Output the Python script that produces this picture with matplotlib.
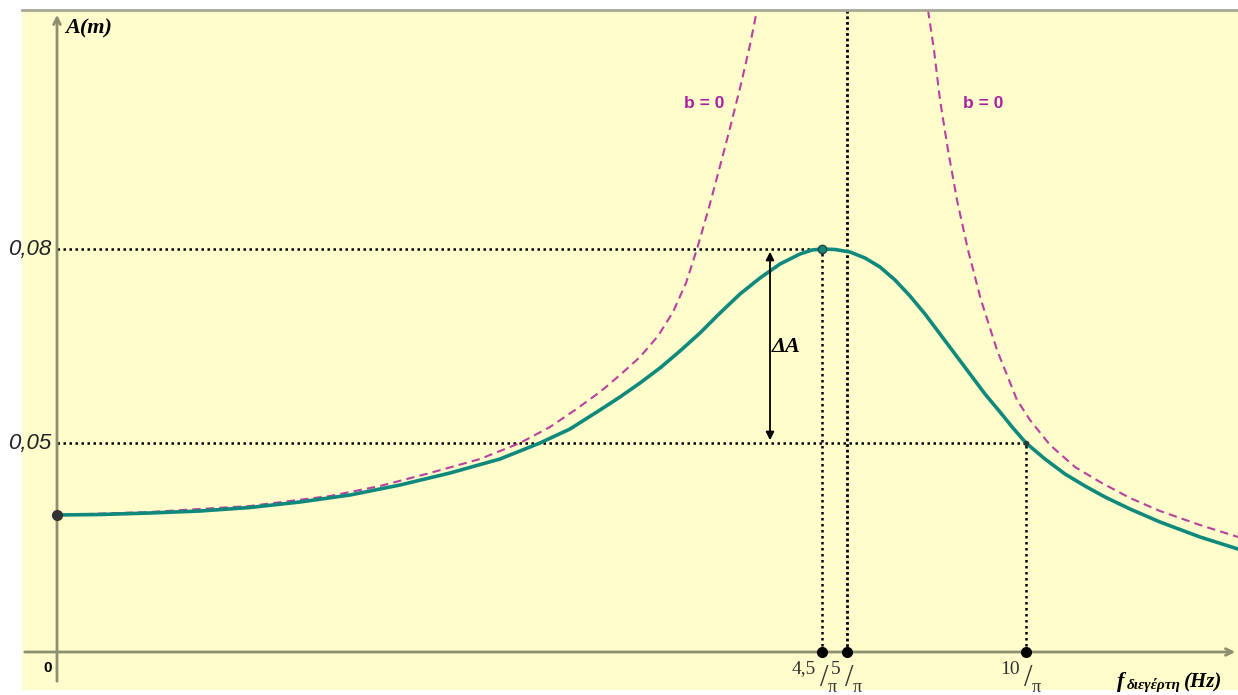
import numpy as np
import matplotlib.pyplot as plt

# schematic coordinates (origin at the axes crossing)
x_damped = [0, 43, 93, 143, 193, 243, 293, 343, 393, 443, 483, 513, 543, 563, 583,
            603, 623, 643, 663, 683, 703, 723, 743, 755, 765, 778, 793, 808, 823,
            838, 853, 868, 883, 898, 913, 928, 943, 956, 969, 988, 1008, 1028,
            1048, 1073, 1103, 1143, 1181]
y_damped = [137, 137.5, 139, 141, 144.5, 150, 157, 167, 179, 193, 209, 223, 242,
            255, 269, 284, 301, 319, 339, 358, 374, 388, 398, 402, 403, 402.5, 400,
            394, 385, 372, 356, 338, 318, 298, 278, 258, 240, 224, 209, 193, 178,
            166, 155, 143, 130, 115, 103]

x_free_left = [0, 93, 193, 273, 323, 373, 423, 463, 493, 518, 543, 563, 583, 601,
               616, 629, 640, 651, 662, 673, 684, 693, 700]
y_free_left = [137, 140, 146, 156, 166, 179, 193, 209, 225, 242, 260, 277, 295, 316,
               340, 369, 403, 441, 482, 524, 568, 607, 642]

x_free_right = [871, 877, 883, 891, 900, 911, 924, 940, 960, 973, 993, 1018, 1043,
                1073, 1103, 1143, 1181]
y_free_right = [642, 602, 552, 502, 452, 402, 352, 302, 252, 232, 207, 185, 170,
                154, 141, 127, 115]

x_marks = [765, 790, 969]          # 4,5/π , 5/π , 10/π
x_numer = ["4,5", "5", "10"]
y_marks = [403, 209]               # 0,08 , 0,05
y_labels = ["0,08", "0,05"]
start_y = 137

bg = "#FFFDCC"
teal = "#10897D"
mag = "#B8409E"
mag_txt = "#A8209F"
axcol = "#8E8E70"

fig = plt.figure(figsize=(12.38, 6.95), dpi=100, facecolor="white")
ax = fig.add_axes([22 / 1238, 5 / 695, 1216 / 1238, 680 / 695])
ax.set_facecolor(bg)
ax.set_xlim(-35, 1181)
ax.set_ylim(-38, 642)
ax.set_xticks([])
ax.set_yticks([])
for s in ["left", "right", "bottom"]:
    ax.spines[s].set_visible(False)
ax.spines["top"].set_color("#A8A898")
ax.spines["top"].set_linewidth(2)

# axes with arrows
ax.annotate("", xy=(1181, 0), xytext=(-35, 0),
            arrowprops=dict(arrowstyle="->", color=axcol, lw=2, mutation_scale=12))
ax.annotate("", xy=(0, 640), xytext=(0, -32),
            arrowprops=dict(arrowstyle="->", color=axcol, lw=2, mutation_scale=12))

# guide lines
dot = (0, (1, 1.4))
ax.plot([0, x_marks[0]], [y_marks[0], y_marks[0]], color="black", lw=1.8, ls=dot)
ax.plot([0, x_marks[2]], [y_marks[1], y_marks[1]], color="black", lw=1.8, ls=dot)
ax.plot([x_marks[0], x_marks[0]], [0, y_marks[0]], color="black", lw=1.8, ls=dot)
ax.plot([x_marks[2], x_marks[2]], [0, y_marks[1]], color="black", lw=1.8, ls=dot)
ax.plot([x_marks[1], x_marks[1]], [0, 642], color="black", lw=2, ls=(0, (1, 1)))

# curves
ax.plot(x_free_left, y_free_left, color=mag, lw=1.5, ls=(0, (4, 2.5)),
        solid_joinstyle="round", dash_joinstyle="round")
ax.plot(x_free_right, y_free_right, color=mag, lw=1.5, ls=(0, (4, 2.5)),
        solid_joinstyle="round", dash_joinstyle="round")
ax.plot(x_damped, y_damped, color=teal, lw=2.6, solid_capstyle="round",
        solid_joinstyle="round")

# points
ax.plot(x_marks, [0, 0, 0], "o", color="black", ms=7, zorder=5)
ax.plot([0], [start_y], "o", color="#333333", ms=7, zorder=5)
ax.plot([x_marks[0]], [y_marks[0]], "o", mfc=teal, mec="#204040", ms=6, zorder=5)
ax.plot([x_marks[2]], [y_marks[1]], "o", color="#204040", ms=3, zorder=5)

# delta A arrow
ax.annotate("", xy=(713, y_marks[0]), xytext=(713, y_marks[1]),
            arrowprops=dict(arrowstyle="<|-|>", color="black", lw=1.3, mutation_scale=12))
ax.text(715, 305, "ΔA", family="Liberation Serif", style="italic", weight="bold",
        fontsize=16, va="center", ha="left")

# texts
ax.text(8, 624, "A(m)", family="Liberation Serif", style="italic", weight="bold",
        fontsize=16, va="center", ha="left")
for yv, lab in zip(y_marks, y_labels):
    ax.text(-6, yv, lab, family="Liberation Sans", style="italic", fontsize=16,
            va="center", ha="right", color="#222222")
ax.text(-9, -16, "0", family="Liberation Sans", weight="bold", fontsize=11,
        va="center", ha="center")
ax.text(647, 549, "b = 0", color=mag_txt, family="Liberation Sans", weight="bold",
        fontsize=12.5, ha="center", va="center")
ax.text(926, 549, "b = 0", color=mag_txt, family="Liberation Sans", weight="bold",
        fontsize=12.5, ha="center", va="center")

for xv, num in zip(x_marks, x_numer):
    ax.text(xv - 6, -17, num, family="Liberation Serif", fontsize=14,
            ha="right", va="center", color="#333333")
    ax.text(xv + 2, -26, "/", family="Liberation Serif", fontsize=22,
            ha="center", va="center", color="#333333")
    ax.text(xv + 6, -36, "π", family="Liberation Serif", fontsize=13,
            ha="left", va="center", color="#333333")

ax.text(1060, -30, "f", family="Liberation Serif", style="italic", weight="bold",
        fontsize=16, ha="left", va="center")
ax.text(1070, -33, "διεγέρτη", family="Liberation Serif", style="italic", weight="bold",
        fontsize=11, ha="left", va="center")
ax.text(1127, -30, "(Hz)", family="Liberation Serif", style="italic", weight="bold",
        fontsize=15, ha="left", va="center")

fig.savefig("out.png", dpi=100, facecolor="white")
